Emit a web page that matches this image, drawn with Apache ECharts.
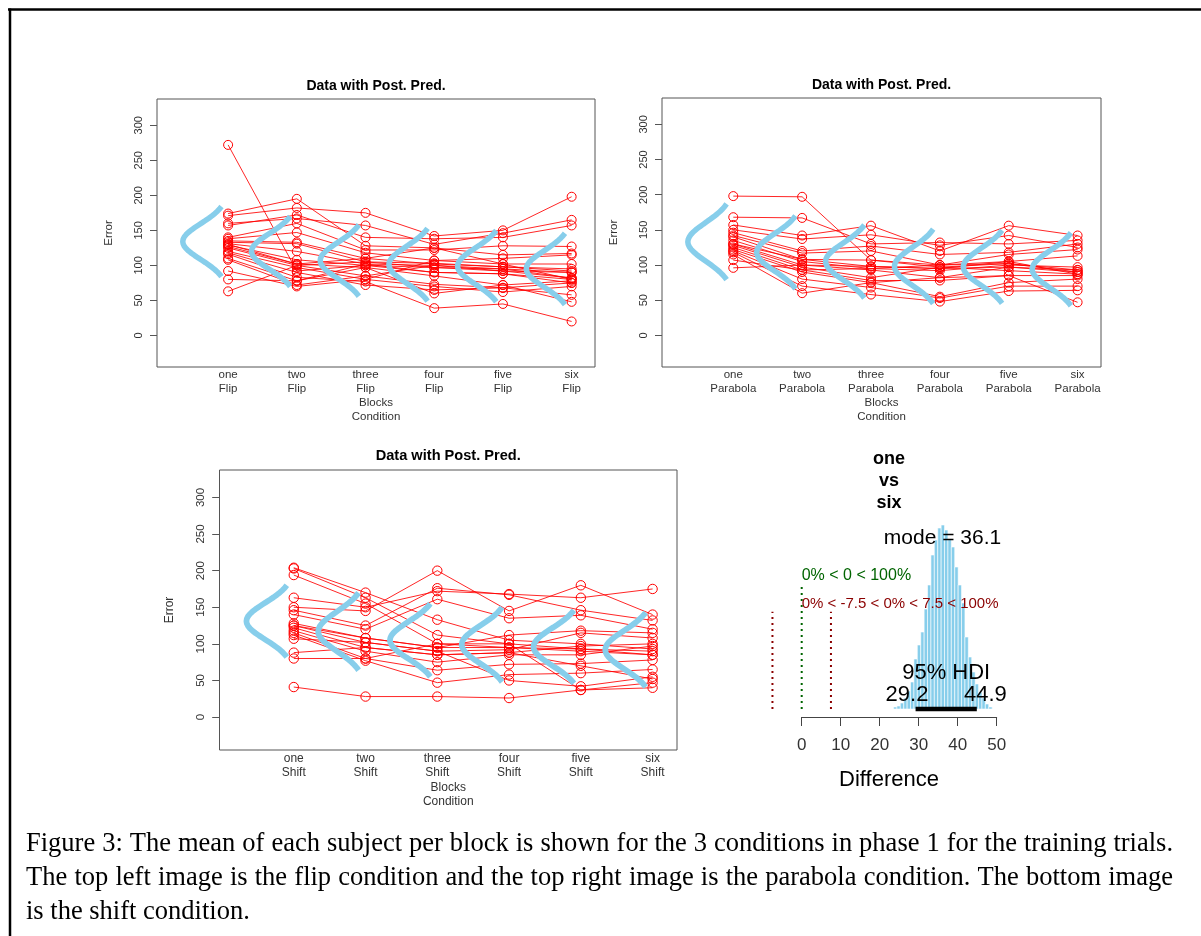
<!DOCTYPE html>
<html>
<head>
<meta charset="utf-8">
<script src="https://cdn.jsdelivr.net/npm/echarts@6/dist/echarts.min.js"></script>
<style>
html,body{margin:0;padding:0;background:#fff;}
#chart{width:1201px;height:936px;}
</style>
</head>
<body>
<div id="chart"></div>
<script>
// ---------------- data ----------------
const blockNames = ['one', 'two', 'three', 'four', 'five', 'six'];
const errorTicks = [0, 50, 100, 150, 200, 250, 300];

// mean error of each subject per block (one row per subject)
const flipData = [
  [272, 92, 100, 97, 95, 90],
  [174, 195, 128, 125, 115, 117],
  [171, 182, 175, 142, 150, 198],
  [160, 167, 157, 130, 146, 165],
  [157, 172, 140, 138, 140, 157],
  [140, 160, 122, 122, 128, 127],
  [138, 147, 118, 107, 110, 115],
  [135, 133, 110, 125, 102, 102],
  [133, 131, 105, 103, 98, 95],
  [131, 120, 102, 100, 92, 82],
  [129, 108, 100, 90, 88, 80],
  [127, 102, 97, 85, 72, 78],
  [125, 100, 85, 73, 68, 75],
  [120, 97, 80, 70, 62, 70],
  [118, 90, 72, 65, 68, 58],
  [116, 83, 77, 39, 45, 20],
  [110, 78, 97, 60, 72, 48],
  [108, 72, 85, 100, 95, 82],
  [92, 70, 80, 107, 102, 80],
  [80, 78, 102, 90, 88, 75],
  [63, 100, 105, 97, 92, 90],
  [130, 102, 110, 102, 98, 92]
];
const parabolaData = [
  [198, 197, 107, 97, 102, 93],
  [168, 167, 130, 132, 130, 135],
  [157, 142, 156, 120, 156, 142],
  [150, 137, 143, 128, 142, 125],
  [146, 120, 127, 115, 118, 130],
  [142, 117, 120, 100, 115, 122],
  [140, 108, 98, 95, 105, 113],
  [135, 105, 95, 92, 100, 97],
  [130, 100, 93, 82, 97, 90],
  [128, 97, 82, 97, 92, 87],
  [125, 93, 78, 78, 85, 85],
  [122, 90, 75, 55, 75, 80],
  [120, 80, 68, 53, 70, 70],
  [118, 70, 58, 48, 63, 64],
  [115, 60, 75, 82, 85, 47],
  [107, 93, 95, 100, 102, 90],
  [96, 100, 98, 95, 97, 93],
  [130, 108, 107, 100, 105, 87]
];
const shiftData = [
  [204, 170, 133, 105, 100, 93],
  [203, 163, 112, 100, 93, 90],
  [194, 155, 100, 95, 90, 85],
  [163, 150, 172, 168, 163, 175],
  [150, 145, 200, 145, 180, 140],
  [146, 125, 176, 167, 146, 132],
  [140, 120, 161, 135, 139, 120],
  [128, 108, 95, 112, 118, 115],
  [125, 102, 90, 92, 115, 108],
  [122, 95, 85, 88, 97, 100],
  [118, 90, 75, 85, 85, 97],
  [115, 80, 64, 72, 73, 78],
  [112, 77, 47, 58, 60, 65],
  [107, 102, 90, 50, 42, 55],
  [88, 95, 85, 88, 70, 52],
  [80, 80, 100, 100, 37, 47],
  [41, 28, 28, 26, 37, 40],
  [125, 108, 95, 95, 93, 85]
];

// posterior predictive normal curves per block (mean, sd)
const flipPredMu = [134, 120, 107, 101, 99, 95];
const flipPredSd = [25.5, 25.5, 26, 26.5, 26, 26];
const parabolaPredMu = [133, 118, 105, 98, 97.5, 94];
const parabolaPredSd = [27.5, 26.5, 26.5, 27, 26.5, 26.5];
const shiftPredMu = [131, 117, 105, 99, 96, 92];
const shiftPredSd = [25, 27, 25.5, 26, 25.5, 26];

// posterior of the difference one vs six (histogram)
const diffBinCenters = [23.98, 24.85, 25.72, 26.6, 27.47, 28.34, 29.21, 30.08, 30.96, 31.83,
  32.7, 33.57, 34.44, 35.32, 36.19, 37.06, 37.93, 38.8, 39.68, 40.55,
  41.42, 42.29, 43.16, 44.04, 44.91, 45.78, 46.65, 47.52, 48.4];
const diffBinCounts = [2, 3, 6, 11, 18, 27, 50, 64, 77, 100,
  124, 154, 169, 181, 184, 179, 170, 162, 142, 124,
  106, 72, 52, 37, 25, 17, 11, 5, 2];
const diffBinWidth = 0.872;
const diffHdi = [29.2, 44.9];
const diffMode = 36.1;
const diffCompVal = 0;
const diffRope = [-7.5, 7.5];
const diffTicks = [0, 10, 20, 30, 40, 50];
const diffCompText = '0% < 0 < 100%';
const diffRopeText = '0% < -7.5 < 0% < 7.5 < 100%';

const captionLines = [
  'Figure 3: The mean of each subject per block is shown for the 3 conditions in phase 1 for the training trials.',
  'The top left image is the flip condition and the top right image is the parabola condition. The bottom image',
  'is the shift condition.'
];

// ---------------- layout ----------------
const FONT = '"Liberation Sans", Arial, Helvetica, sans-serif';
const panels = [
  {data: flipData, mu: flipPredMu, sd: flipPredSd, cond: 'Flip',
   box: {left: 157, top: 99, width: 438, height: 268}, s: 1},
  {data: parabolaData, mu: parabolaPredMu, sd: parabolaPredSd, cond: 'Parabola',
   box: {left: 662, top: 98, width: 439, height: 269}, s: 1},
  {data: shiftData, mu: shiftPredMu, sd: shiftPredSd, cond: 'Shift',
   box: {left: 219.5, top: 470, width: 457.5, height: 280}, s: 1.043}
];
const X_MIN = -0.035, X_MAX = 6.34, Y_MIN = -45, Y_MAX = 337.5;

const grids = [], xAxes = [], yAxes = [], series = [], graphics = [];

panels.forEach((p, gi) => {
  const s = p.s;
  grids.push(Object.assign({show: true, borderColor: '#555', borderWidth: 1,
    backgroundColor: 'transparent', outerBoundsMode: 'none'}, p.box));
  xAxes.push({
    type: 'value', gridIndex: gi, min: X_MIN, max: X_MAX,
    axisLine: {show: false, onZero: false},
    axisTick: {show: false},
    splitLine: {show: false},
    axisLabel: {
      customValues: [1, 2, 3, 4, 5, 6],
      formatter: v => blockNames[Math.round(v) - 1] + '\n' + p.cond,
      fontSize: 11.5 * s, lineHeight: 14 * s, color: '#333', fontFamily: FONT, margin: 1
    }
  });
  yAxes.push({
    type: 'value', gridIndex: gi, min: Y_MIN, max: Y_MAX,
    axisLine: {show: false, onZero: false},
    axisTick: {show: true, customValues: errorTicks, length: 7 * s, lineStyle: {color: '#555'}},
    splitLine: {show: false},
    axisLabel: {
      customValues: errorTicks, rotate: 90, fontSize: 11 * s, color: '#333',
      fontFamily: FONT, margin: 13 * s
    }
  });
  // subject lines with open circles
  p.data.forEach(row => {
    series.push({
      type: 'line', xAxisIndex: gi, yAxisIndex: gi, z: 2,
      data: row.map((v, k) => [k + 1, v]),
      symbol: 'circle', symbolSize: 9 * s, showSymbol: true,
      lineStyle: {color: 'rgba(255,0,0,0.85)', width: 1},
      itemStyle: {color: 'rgba(0,0,0,0)', borderColor: '#ff0000', borderWidth: 1},
      emphasis: {disabled: true}, silent: true, animation: false
    });
  });
  // posterior predictive curves (sideways normal densities)
  p.mu.forEach((m, j) => {
    const sd = p.sd[j], pts = [];
    for (let k = 0; k <= 60; k++) {
      const z = -1.96 + 3.92 * k / 60;
      pts.push([j + 1 - 0.66 * Math.exp(-z * z / 2), m + z * sd]);
    }
    series.push({
      type: 'line', xAxisIndex: gi, yAxisIndex: gi, z: 3,
      data: pts, showSymbol: false, symbol: 'none',
      lineStyle: {color: '#87CEEB', width: 5.5 * s},
      emphasis: {disabled: true}, silent: true, animation: false
    });
  });
  // titles and axis names
  const b = p.box, cx = b.left + b.width / 2;
  graphics.push({type: 'text', z: 100, x: cx, y: b.top - 13 * s, style: {text: 'Data with Post. Pred.',
    fontSize: 14 * s, fontWeight: 'bold', fontFamily: FONT, fill: '#000', align: 'center', verticalAlign: 'middle'}});
  graphics.push({type: 'text', z: 100, x: cx, y: b.top + b.height + 36 * s, style: {text: 'Blocks',
    fontSize: 11.5 * s, fontFamily: FONT, fill: '#333', align: 'center', verticalAlign: 'middle'}});
  graphics.push({type: 'text', z: 100, x: cx, y: b.top + b.height + 50 * s, style: {text: 'Condition',
    fontSize: 11.5 * s, fontFamily: FONT, fill: '#333', align: 'center', verticalAlign: 'middle'}});
  graphics.push({type: 'text', z: 100, x: b.left - 48 * s, y: b.top + b.height / 2, rotation: Math.PI / 2,
    style: {text: 'Error', fontSize: 11.5 * s, fontFamily: FONT, fill: '#333', align: 'center', verticalAlign: 'middle'}});
});

// histogram panel (grid 3: marks, grid 4: axis 0..50)
const PXU = 3.9; // px per difference unit
const X0 = 801.7;
const H_MIN = -10, H_MAX = 52;
grids.push({left: X0 + H_MIN * PXU, top: 519, width: (H_MAX - H_MIN) * PXU, height: 190, show: false, outerBoundsMode: 'none'});
xAxes.push({type: 'value', gridIndex: 3, min: H_MIN, max: H_MAX, show: false});
yAxes.push({type: 'value', gridIndex: 3, min: 0, max: 190, show: false});
grids.push({left: X0, top: 519, width: 50 * PXU, height: 190, show: false, outerBoundsMode: 'none'});
xAxes.push({
  type: 'value', gridIndex: 4, min: 0, max: 50, interval: 10, offset: 8,
  axisLine: {show: true, onZero: false, lineStyle: {color: '#444', width: 1}},
  axisTick: {show: true, length: 9, lineStyle: {color: '#444'}},
  splitLine: {show: false},
  axisLabel: {fontSize: 17, color: '#333', fontFamily: FONT, margin: 20}
});
yAxes.push({type: 'value', gridIndex: 4, min: 0, max: 1, show: false});

const maxC = Math.max(...diffBinCounts);
series.push({
  type: 'custom', xAxisIndex: 3, yAxisIndex: 3, z: 2, silent: true, animation: false,
  data: diffBinCenters.map((c, i) => [c, diffBinCounts[i]]),
  encode: {x: 0, y: 1},
  renderItem: (params, api) => {
    const c = api.value(0), n = api.value(1);
    const p0 = api.coord([c - diffBinWidth / 2, n]);
    const p1 = api.coord([c + diffBinWidth / 2, 0]);
    return {type: 'rect', shape: {x: p0[0], y: p0[1], width: p1[0] - p0[0], height: p1[1] - p0[1]},
      style: {fill: '#87CEEB', stroke: '#ffffff', lineWidth: 0.6}};
  }
});
series.push({type: 'line', xAxisIndex: 3, yAxisIndex: 3, z: 4, clip: false, silent: true, animation: false,
  data: [[diffHdi[0], 0], [diffHdi[1], 0]], symbol: 'none', lineStyle: {color: '#000', width: 4.5}});
series.push({type: 'line', xAxisIndex: 3, yAxisIndex: 3, z: 4, clip: false, silent: true, animation: false,
  data: [[diffCompVal, 0], [diffCompVal, 0.96 * 0.7 * maxC]], symbol: 'none',
  lineStyle: {color: '#006400', width: 2, type: [2, 4]}});
diffRope.forEach(r => {
  series.push({type: 'line', xAxisIndex: 3, yAxisIndex: 3, z: 4, clip: false, silent: true, animation: false,
    data: [[r, 0], [r, 0.96 * 0.55 * maxC]], symbol: 'none',
    lineStyle: {color: '#8B0000', width: 2, type: [2, 4]}});
});
series.push({type: 'line', xAxisIndex: 4, yAxisIndex: 4, data: [], silent: true});

// page frame and fixed texts
graphics.push({type: 'line', z: 100, shape: {x1: 8, y1: 9.5, x2: 1201, y2: 9.5}, style: {stroke: '#000', lineWidth: 2.5}});
graphics.push({type: 'line', z: 100, shape: {x1: 10, y1: 8.5, x2: 10, y2: 936}, style: {stroke: '#000', lineWidth: 2.5}});
['one', 'vs', 'six'].forEach((t, i) => {
  graphics.push({type: 'text', z: 100, x: 889, y: 459 + 22 * i, style: {text: t, fontSize: 18, fontWeight: 'bold',
    fontFamily: FONT, fill: '#000', align: 'center', verticalAlign: 'middle'}});
});
graphics.push({type: 'text', z: 100, x: 889, y: 780, style: {text: 'Difference', fontSize: 22,
  fontFamily: FONT, fill: '#000', align: 'center', verticalAlign: 'middle'}});

const chart = echarts.init(document.getElementById('chart'), null, {renderer: 'canvas'});
chart.setOption({
  animation: false,
  backgroundColor: '#ffffff',
  textStyle: {fontFamily: FONT},
  grid: grids, xAxis: xAxes, yAxis: yAxes, series: series
});

// ---- annotation texts positioned through the histogram scales ----
const mctx = document.createElement('canvas').getContext('2d');
function textW(t, size, family, weight) {
  mctx.font = (weight || 'normal') + ' ' + size + 'px ' + family;
  return mctx.measureText(t).width;
}
const P = (x, y) => chart.convertToPixel({gridIndex: 3}, [x, y]);
const pm = P(diffMode, 0.9 * maxC);
graphics.push({type: 'text', z: 100, x: pm[0], y: pm[1] + 5, style: {text: 'mode = ' + diffMode, fontSize: 21,
  fontFamily: FONT, fill: '#000', align: 'center', verticalAlign: 'bottom'}});
const ph = P((diffHdi[0] + diffHdi[1]) / 2, 0);
graphics.push({type: 'text', z: 100, x: ph[0], y: ph[1] - 36, style: {text: '95% HDI', fontSize: 22,
  fontFamily: FONT, fill: '#000', align: 'center', verticalAlign: 'middle'}});
const lo = P(diffHdi[0], 0), hi = P(diffHdi[1], 0);
const wLo = textW(String(diffHdi[0]), 22, FONT), wHi = textW(String(diffHdi[1]), 22, FONT);
graphics.push({type: 'text', z: 100, x: lo[0] - 0.7 * wLo, y: lo[1] - 14, style: {text: String(diffHdi[0]), fontSize: 22,
  fontFamily: FONT, fill: '#000', align: 'left', verticalAlign: 'middle'}});
graphics.push({type: 'text', z: 100, x: hi[0] - 0.3 * wHi, y: hi[1] - 14, style: {text: String(diffHdi[1]), fontSize: 22,
  fontFamily: FONT, fill: '#000', align: 'left', verticalAlign: 'middle'}});
const pc = P(diffCompVal, 0.7 * maxC);
graphics.push({type: 'text', z: 100, x: pc[0], y: pc[1] + 3, style: {text: diffCompText, fontSize: 16,
  fontFamily: FONT, fill: '#006400', align: 'left', verticalAlign: 'bottom'}});
const pr = P((diffRope[0] + diffRope[1]) / 2, 0.55 * maxC);
graphics.push({type: 'text', z: 100, x: pr[0], y: pr[1] + 4, style: {text: diffRopeText, fontSize: 15,
  fontFamily: FONT, fill: '#8B0000', align: 'left', verticalAlign: 'bottom'}});

// ---- caption (justified first two lines) ----
const CAP_FONT = '"Liberation Serif", "Times New Roman", serif';
const CAP_SIZE = 26.5, CAP_LEFT = 26, CAP_RIGHT = 1173;
const capY = [844, 878, 912];
captionLines.forEach((line, li) => {
  if (li < 2) {
    const words = line.split(' ');
    const ws = words.map(w => textW(w, CAP_SIZE, CAP_FONT));
    const total = ws.reduce((a, b) => a + b, 0);
    const gap = (CAP_RIGHT - CAP_LEFT - total) / (words.length - 1);
    let x = CAP_LEFT;
    words.forEach((w, k) => {
      graphics.push({type: 'text', z: 100, x: x, y: capY[li], style: {text: w, fontSize: CAP_SIZE,
        fontFamily: CAP_FONT, fill: '#000', align: 'left', verticalAlign: 'middle'}});
      x += ws[k] + gap;
    });
  } else {
    graphics.push({type: 'text', z: 100, x: CAP_LEFT, y: capY[li], style: {text: line, fontSize: CAP_SIZE,
      fontFamily: CAP_FONT, fill: '#000', align: 'left', verticalAlign: 'middle'}});
  }
});

chart.setOption({graphic: graphics});
</script>
</body>
</html>
